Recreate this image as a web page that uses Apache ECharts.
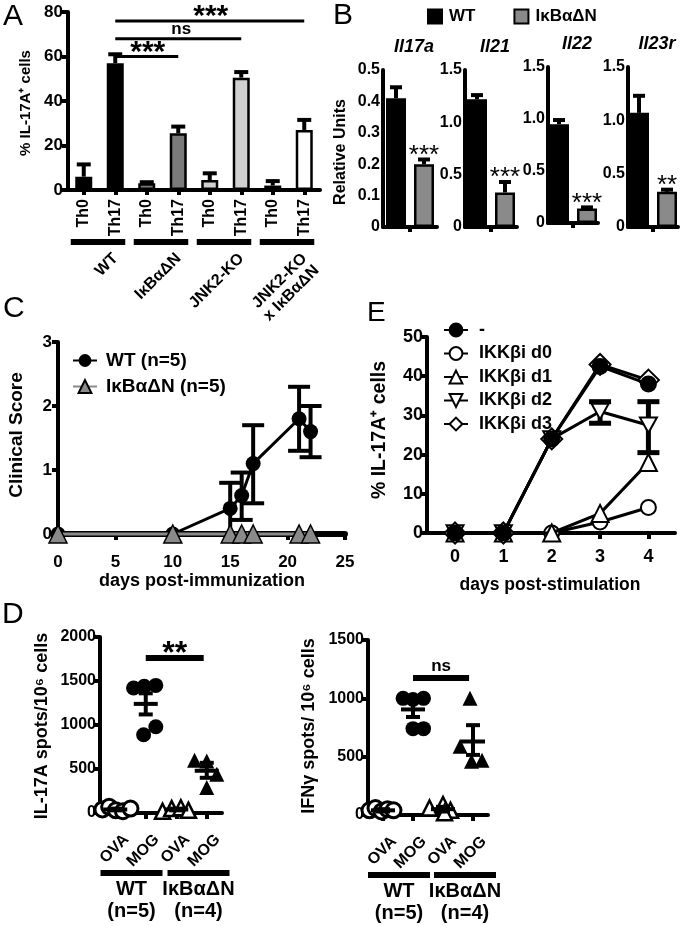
<!DOCTYPE html>
<html><head><meta charset="utf-8">
<script src="https://cdn.jsdelivr.net/npm/echarts@6/dist/echarts.min.js"></script>
<style>html,body{margin:0;padding:0;background:#fff}#c{width:680px;height:926px}</style>
</head><body><div id="c"></div>
<script>
// ================= DATA =================
// Panel A
const aCategories = ['Th0','Th17','Th0','Th17','Th0','Th17','Th0','Th17'];
const aGroups = ['WT','IκBαΔN','JNK2-KO','JNK2-KO|x IκBαΔN'];
const aValues = [6, 57, 3, 25.5, 4.5, 50.5, 2, 27];
const aErrUpper = [11.5, 61, 3.5, 28.5, 7.5, 53, 4, 31.5];
const aSigFrom = [1, 1, 1];
const aSigTo = [7, 5, 3];
const aSigLevel = [76, 68, 60];
const aSigText = ['***', 'ns', '***'];
// Panel B
const bGenes = ['Il17a','Il21','Il22','Il23r'];
const bSeriesNames = ['WT','IκBαΔN'];
const bWT = [0.41, 1.22, 0.95, 1.07];
const bWTUpper = [0.445, 1.26, 0.99, 1.23];
const bMut = [0.20, 0.33, 0.14, 0.33];
const bMutUpper = [0.215, 0.43, 0.15, 0.35];
const bYMax = [0.5, 1.5, 1.5, 1.5];
const bYStep = [0.1, 0.5, 0.5, 0.5];
const bSig = ['***','***','***','**'];
// Panel C
const cSeriesNames = ['WT (n=5)', 'IκBαΔN (n=5)'];
const cDays = [0, 10, 15, 16, 17, 21, 22];
const cWT = [0, 0, 0.4, 0.6, 1.1, 1.8, 1.6];
const cWTLow = [0, 0, 0, 0.22, 0.48, 1.3, 1.2];
const cWTHigh = [0, 0, 0.8, 0.96, 1.7, 2.3, 2.0];
const cMut = [0, 0, 0, 0, 0, 0, 0];
// Panel E
const eSeriesNames = ['-', 'IKKβi d0', 'IKKβi d1', 'IKKβi d2', 'IKKβi d3'];
const eDays = [0, 1, 2, 3, 4];
const eNone = [0, 0, 24, 42.5, 38];
const eD0 = [0, 0, 0, 2.8, 6.5];
const eD1 = [0, 0, 0, 5, 18];
const eD2 = [0, 0, 24, 31, 27.5];
const eD2Low = [0, 0, 24, 28, 20.5];
const eD2High = [0, 0, 24, 33.5, 33.5];
const eD3 = [0, 0, 24, 43, 39];
// Panel D
const dCategories = ['OVA','MOG','OVA','MOG'];
const dGroups = ['WT','IκBαΔN'];
const dGroupN = ['(n=5)','(n=4)'];
const d17Values = [[40, 70, 30, 20, 50], [1420, 1440, 1450, 980, 890], [20, 50, 60, 30], [600, 590, 440, 290]];
const d17Jitter = [[-0.42, -0.2, 0.02, 0.25, 0.5], [-0.4, -0.05, 0.33, 0.33, -0.07], [-0.45, -0.15, 0.15, 0.4], [-0.4, 0, 0.33, 0]];
const d17Mean = [40, 1240, 40, 480];
const d17SemLow = [30, 1120, 30, 400];
const d17SemHigh = [50, 1360, 50, 570];
const d17Sig = {from: 1, to: 2.9, level: 1760, text: '**'};
const dIfnValues = [[40, 60, 30, 50, 40], [1000, 990, 1000, 740, 740], [60, 90, 40, 20], [1000, 590, 460, 470]];
const dIfnJitter = [[-0.45, -0.25, -0.05, 0.15, 0.35], [-0.33, 0, 0.35, 0, 0.35], [-0.45, 0, 0.25, 0.05], [-0.1, -0.43, -0.05, 0.3]];
const dIfnMean = [40, 905, 50, 630];
const dIfnSemLow = [30, 840, 30, 515];
const dIfnSemHigh = [50, 970, 70, 770];
const dIfnSig = {from: 1, to: 2.87, level: 1175, text: 'ns'};

// ================= CHART =================
const FONT = 'Liberation Sans, Arial, Helvetica, sans-serif';
const chart = echarts.init(document.getElementById('c'), null, {renderer: 'canvas', width: 680, height: 926});

const axisLine = {show: true, onZero: false, lineStyle: {color: '#000', width: 4}};
function lbl(fs, extra) { return Object.assign({fontFamily: FONT, fontWeight: 'bold', color: '#000', fontSize: fs}, extra || {}); }
function tick(len, extra) { return Object.assign({show: true, length: len, lineStyle: {color: '#000', width: 4}}, extra || {}); }
const plain = v => String(v);

const grids = [
  {left: 68, top: 12, width: 252, height: 178},     // A
  {left: 383, top: 70, width: 54, height: 157},     // B1
  {left: 465, top: 70, width: 52, height: 157},     // B2
  {left: 548, top: 67, width: 50, height: 156},     // B3
  {left: 628, top: 67, width: 50, height: 160},     // B4
  {left: 58, top: 342, width: 287, height: 192},    // C
  {left: 427, top: 337, width: 248, height: 196},   // E
  {left: 100, top: 637, width: 122, height: 176},   // D left
  {left: 368, top: 640, width: 120, height: 175}    // D right
];

const xAxes = [], yAxes = [], series = [];
// ---- A ----
xAxes.push({type: 'category', gridIndex: 0, data: aCategories, axisLine,
  axisTick: tick(5, {alignWithLabel: true}), axisLabel: lbl(16, {rotate: 90, margin: 9})});
yAxes.push({type: 'value', gridIndex: 0, min: 0, max: 80, interval: 20, axisLine,
  axisTick: tick(6), axisLabel: lbl(17, {margin: 5}), splitLine: {show: false}});
const aFills = ['#000', '#7a7a7a', '#d0d0d0', '#fff'];
series.push({type: 'bar', xAxisIndex: 0, yAxisIndex: 0, barWidth: 17, z: 3,
  itemStyle: {borderColor: '#000', borderWidth: 2.5},
  data: aValues.map((v, i) => ({value: v, itemStyle: {color: aFills[Math.floor(i / 2)]}}))});
series.push({type: 'custom', xAxisIndex: 0, yAxisIndex: 0, z: 2,
  data: aValues.map((v, i) => [i, aErrUpper[i], v]), encode: {x: 0, y: [1, 2]},
  renderItem: function (params, api) {
    const t = api.coord([api.value(0), api.value(1)]);
    const b = api.coord([api.value(0), api.value(2)]);
    const st = {stroke: '#000', lineWidth: 4};
    return {type: 'group', children: [
      {type: 'line', shape: {x1: t[0], y1: t[1], x2: b[0], y2: b[1]}, style: st},
      {type: 'line', shape: {x1: t[0] - 7, y1: t[1], x2: t[0] + 7, y2: t[1]}, style: st}]};
  }});

// ---- B ----
bGenes.forEach((g, k) => {
  const gi = 1 + k;
  xAxes.push({type: 'category', gridIndex: gi, data: [''], axisLine,
    axisTick: tick(5, {alignWithLabel: true}), axisLabel: {show: false}});
  yAxes.push({type: 'value', gridIndex: gi, min: 0, max: bYMax[k], interval: bYStep[k], axisLine,
    axisTick: {show: false}, splitLine: {show: false},
    axisLabel: lbl(16, {margin: 3, formatter: v => (v === 0 ? '0' : v.toFixed(1))})});
  series.push({type: 'bar', name: bSeriesNames[0], xAxisIndex: gi, yAxisIndex: gi, barWidth: 20, barGap: '40%', z: 3,
    itemStyle: {color: '#000', borderColor: '#000', borderWidth: 2}, data: [bWT[k]]});
  series.push({type: 'bar', name: bSeriesNames[1], xAxisIndex: gi, yAxisIndex: gi, barWidth: 20, barGap: '40%', z: 3,
    itemStyle: {color: '#8a8a8a', borderColor: '#000', borderWidth: 2.5}, data: [bMut[k]]});
  series.push({type: 'custom', xAxisIndex: gi, yAxisIndex: gi, z: 2,
    data: [[0, bWTUpper[k], bWT[k], -1], [0, bMutUpper[k], bMut[k], 1]], encode: {x: 0, y: [1, 2]},
    renderItem: function (params, api) {
      const off = api.value(3) * 14;
      const t = api.coord([0, api.value(1)]);
      const b = api.coord([0, api.value(2)]);
      const x = t[0] + off;
      const st = {stroke: '#000', lineWidth: 4};
      return {type: 'group', children: [
        {type: 'line', shape: {x1: x, y1: t[1], x2: x, y2: b[1]}, style: st},
        {type: 'line', shape: {x1: x - 6, y1: t[1], x2: x + 6, y2: t[1]}, style: st}]};
    }});
});

// ---- C ----
xAxes.push({type: 'value', gridIndex: 5, min: 0, max: 25, interval: 5,
  axisLine: {show: true, onZero: false, lineStyle: {color: '#000', width: 6}},
  axisTick: tick(6), axisLabel: lbl(17, {margin: 20}), splitLine: {show: false}});
yAxes.push({type: 'value', gridIndex: 5, min: 0, max: 3, interval: 1, axisLine,
  axisTick: tick(6), axisLabel: lbl(17, {margin: 6}), splitLine: {show: false}});
series.push({type: 'custom', xAxisIndex: 5, yAxisIndex: 5, z: 2, clip: false,
  data: cDays.map((d, i) => [d, cWTLow[i], cWTHigh[i]]).filter(r => r[2] > r[1]), encode: {x: 0, y: [1, 2]},
  renderItem: function (params, api) {
    const lo = api.coord([api.value(0), api.value(1)]);
    const hi = api.coord([api.value(0), api.value(2)]);
    const st = {stroke: '#000', lineWidth: 4};
    return {type: 'group', children: [
      {type: 'line', shape: {x1: lo[0], y1: lo[1], x2: hi[0], y2: hi[1]}, style: st},
      {type: 'line', shape: {x1: hi[0] - 11, y1: hi[1], x2: hi[0] + 11, y2: hi[1]}, style: st},
      {type: 'line', shape: {x1: lo[0] - 11, y1: lo[1], x2: lo[0] + 11, y2: lo[1]}, style: st}]};
  }});
series.push({type: 'line', name: cSeriesNames[0], xAxisIndex: 5, yAxisIndex: 5, z: 3, clip: false,
  symbol: 'circle', symbolSize: 15, itemStyle: {color: '#000'}, lineStyle: {color: '#000', width: 3},
  data: cDays.map((d, i) => [d, cWT[i]])});
series.push({type: 'line', name: cSeriesNames[1], xAxisIndex: 5, yAxisIndex: 5, z: 4, clip: false,
  symbol: 'triangle', symbolSize: 18, itemStyle: {color: '#8a8a8a', borderColor: '#000', borderWidth: 1.5},
  lineStyle: {color: '#8a8a8a', width: 3},
  data: cDays.map((d, i) => [d, cMut[i]])});

// ---- E ----
xAxes.push({type: 'value', gridIndex: 6, min: -0.58, max: 4.55, axisLine,
  axisTick: tick(6, {customValues: eDays}), axisLabel: lbl(18, {margin: 15, customValues: eDays}), splitLine: {show: false}});
yAxes.push({type: 'value', gridIndex: 6, min: 0, max: 50, interval: 10, axisLine,
  axisTick: tick(6), axisLabel: lbl(18, {margin: 4}), splitLine: {show: false}});
const eDefs = [
  {vals: eNone, symbol: 'circle', size: 15, fill: '#000', z: 8},
  {vals: eD0, symbol: 'circle', size: 15, fill: '#fff', z: 4},
  {vals: eD1, symbol: 'triangle', size: 17, fill: '#fff', z: 5},
  {vals: eD2, symbol: 'path://M0,0L10,0L5,9Z', size: 17, fill: '#fff', z: 6},
  {vals: eD3, symbol: 'diamond', size: 21, fill: '#fff', z: 7}
];
eDefs.forEach((d, k) => {
  series.push({type: 'line', name: eSeriesNames[k], xAxisIndex: 6, yAxisIndex: 6, z: d.z, clip: false,
    symbol: d.symbol, symbolSize: d.size, symbolKeepAspect: true,
    itemStyle: {color: d.fill, borderColor: '#000', borderWidth: 2, opacity: 1},
    lineStyle: {color: '#000', width: 3},
    data: eDays.map((x, i) => [x, d.vals[i]])});
});
series.push({type: 'custom', xAxisIndex: 6, yAxisIndex: 6, z: 3, clip: false,
  data: eDays.map((x, i) => [x, eD2Low[i], eD2High[i]]).filter(r => r[2] > r[1]), encode: {x: 0, y: [1, 2]},
  renderItem: function (params, api) {
    const lo = api.coord([api.value(0), api.value(1)]);
    const hi = api.coord([api.value(0), api.value(2)]);
    const st = {stroke: '#000', lineWidth: 5};
    return {type: 'group', children: [
      {type: 'line', shape: {x1: lo[0], y1: lo[1], x2: hi[0], y2: hi[1]}, style: st},
      {type: 'line', shape: {x1: hi[0] - 11, y1: hi[1], x2: hi[0] + 11, y2: hi[1]}, style: st},
      {type: 'line', shape: {x1: lo[0] - 11, y1: lo[1], x2: lo[0] + 11, y2: lo[1]}, style: st}]};
  }});

// ---- D ----
function dPanel(gi, ymax, vals, jit, mean, lo, hi) {
  xAxes.push({type: 'value', gridIndex: gi, min: -0.5, max: 3.5, axisLine,
    axisTick: tick(6, {customValues: [0, 1, 2, 3]}), axisLabel: {show: false}, splitLine: {show: false}});
  yAxes.push({type: 'value', gridIndex: gi, min: 0, max: ymax, interval: 500, axisLine,
    axisTick: tick(6), axisLabel: lbl(16, {margin: 4, formatter: plain}), splitLine: {show: false}});
  const sty = [
    {symbol: 'circle', size: 15, fill: '#fff', bw: 3},
    {symbol: 'circle', size: 15, fill: '#000', bw: 0},
    {symbol: 'triangle', size: 15, fill: '#fff', bw: 2.5},
    {symbol: 'triangle', size: 15, fill: '#000', bw: 0}
  ];
  series.push({type: 'custom', xAxisIndex: gi, yAxisIndex: gi, z: 6, clip: false,
    data: mean.map((m, c) => [c, m, lo[c], hi[c]]), encode: {x: 0, y: [1, 2, 3]},
    renderItem: function (params, api) {
      const x = api.value(0);
      const m = api.coord([x, api.value(1)]), l = api.coord([x, api.value(2)]), h = api.coord([x, api.value(3)]);
      const st = {stroke: '#000', lineWidth: 4};
      return {type: 'group', children: [
        {type: 'line', shape: {x1: m[0] - 12, y1: m[1], x2: m[0] + 12, y2: m[1]}, style: st},
        {type: 'line', shape: {x1: l[0], y1: l[1], x2: h[0], y2: h[1]}, style: st},
        {type: 'line', shape: {x1: h[0] - 7, y1: h[1], x2: h[0] + 7, y2: h[1]}, style: st},
        {type: 'line', shape: {x1: l[0] - 7, y1: l[1], x2: l[0] + 7, y2: l[1]}, style: st}]};
    }});
  vals.forEach((arr, c) => {
    const s = sty[c];
    series.push({type: 'scatter', xAxisIndex: gi, yAxisIndex: gi, z: 4, clip: false,
      symbol: s.symbol, symbolSize: s.size,
      itemStyle: {color: s.fill, borderColor: '#000', borderWidth: s.bw, opacity: 1},
      data: arr.map((v, i) => [c + jit[c][i], v])});
  });
}
dPanel(7, 2000, d17Values, d17Jitter, d17Mean, d17SemLow, d17SemHigh);
dPanel(8, 1500, dIfnValues, dIfnJitter, dIfnMean, dIfnSemLow, dIfnSemHigh);

const option = {
  animation: false,
  backgroundColor: '#fff',
  textStyle: {fontFamily: FONT},
  grid: grids,
  xAxis: xAxes,
  yAxis: yAxes,
  legend: [
    {data: bSeriesNames, left: 427, top: 8, padding: 0, itemWidth: 14, itemHeight: 14, itemGap: 38, icon: 'rect',
      textStyle: lbl(17, {padding: [0, 0, 0, 2]})},
    {data: cSeriesNames, orient: 'vertical', left: 72, top: 351, padding: 0, itemWidth: 24, itemHeight: 16, itemGap: 7,
      textStyle: lbl(19, {padding: [0, 0, 0, 4]})},
    {data: eSeriesNames, orient: 'vertical', left: 443, top: 321, padding: 0, itemWidth: 24, itemHeight: 16, itemGap: 5.5,
      textStyle: lbl(18, {padding: [0, 0, 0, 6]})}
  ],
  series
};
chart.setOption(option);

// ================= ANNOTATIONS (positioned through the axes) =================
const G = [];
function pix(gi, x, y) { return chart.convertToPixel({gridIndex: gi}, [x, y]); }
function txt(t, x, y, o) {
  o = o || {};
  G.push({type: 'text', x: x, y: y, rotation: o.rot || 0, z: 100, silent: true,
    style: {text: t, fill: '#000', fontFamily: FONT, fontSize: o.size || 16, fontWeight: o.weight || 'bold',
      fontStyle: o.style || 'normal', align: o.align || 'center', verticalAlign: o.va || 'middle'}});
}
function ln(x1, y1, x2, y2, w) {
  G.push({type: 'line', z: 100, silent: true, shape: {x1, y1, x2, y2}, style: {stroke: '#000', lineWidth: w}});
}
const R90 = Math.PI / 2, R45 = Math.PI / 4;

// Panel letters
txt('A', 3, 17, {size: 30, weight: 'normal', align: 'left'});
txt('B', 333, 16, {size: 30, weight: 'normal', align: 'left'});
txt('C', 3, 309, {size: 30, weight: 'normal', align: 'left'});
txt('E', 367, 313, {size: 28, weight: 'normal', align: 'left'});
txt('D', 2, 615, {size: 30, weight: 'normal', align: 'left'});

// A
txt('% IL-17A⁺ cells', 26, 103, {rot: R90, size: 15});
aSigText.forEach((t, k) => {
  const p1 = pix(0, aSigFrom[k], aSigLevel[k]), p2 = pix(0, aSigTo[k], aSigLevel[k]);
  ln(p1[0], p1[1], p2[0], p2[1], 3);
  const mx = (p1[0] + p2[0]) / 2;
  if (t === 'ns') txt(t, mx + 3, p1[1] - 9, {size: 17});
  else txt(t, mx + 1, p1[1] - 4, {size: 30});
});
const aBase = pix(0, 0, 0)[1];
aGroups.forEach((g, i) => {
  const c0 = pix(0, 2 * i, 0)[0], c1 = pix(0, 2 * i + 1, 0)[0];
  ln(c0 - 13, aBase + 52, c1 + 10, aBase + 52, 6);
  const mid = (c0 + c1) / 2;
  const parts = g.split('|');
  parts.forEach((p, j) => {
    txt(p, mid + 16 + j * 12, aBase + 66 + j * 12, {rot: R45, size: 16, align: 'right'});
  });
});

// B
txt('Relative Units', 341, 152, {rot: R90, size: 16});
bGenes.forEach((g, k) => {
  const top = pix(1 + k, 0, bYMax[k]);
  txt(g, top[0] + 4, top[1] - 23, {size: 18, style: 'italic'});
  const p = pix(1 + k, 0, bMutUpper[k]);
  txt(bSig[k], p[0] + 14, p[1] - 4, {size: 26, weight: 'normal'});
});

// C
txt('Clinical Score', 17, 435, {rot: R90, size: 19});
txt('days post-immunization', 202, 581, {size: 18});

// E
txt('% IL-17A⁺ cells', 380, 430, {rot: R90, size: 19.5});
txt('days post-stimulation', 550, 585, {size: 17.5});

// D
function dAnn(gi, title, titleX, sig) {
  txt(title, titleX, 726, {rot: R90, size: 18});
  const p1 = pix(gi, sig.from, sig.level), p2 = pix(gi, sig.to, sig.level);
  ln(p1[0], p1[1], p2[0], p2[1], 6);
  const mx = (p1[0] + p2[0]) / 2;
  if (sig.text === 'ns') txt(sig.text, mx, p1[1] - 12, {size: 17});
  else txt(sig.text, mx, p1[1] - 4, {size: 32});
  const base = pix(gi, 0, 0)[1];
  dCategories.forEach((c, i) => {
    const x = pix(gi, i, 0)[0];
    txt(c, x + 11, base + 24, {rot: R45, size: 16, align: 'right'});
  });
  const shift = [1, 7];
  dGroups.forEach((g, j) => {
    const c0 = pix(gi, 2 * j, 0)[0], c1 = pix(gi, 2 * j + 1, 0)[0];
    const mid = (c0 + c1) / 2 + shift[j];
    ln(mid - 31, base + 60, mid + 31, base + 60, 6);
    txt(g, mid, base + 76, {size: 20});
    txt(dGroupN[j], mid, base + 98, {size: 20});
  });
}
dAnn(7, 'IL-17A spots/10⁶ cells', 42, d17Sig);
dAnn(8, 'IFNγ spots/ 10⁶ cells', 309, dIfnSig);

chart.setOption({graphic: G});
</script>
</body></html>
